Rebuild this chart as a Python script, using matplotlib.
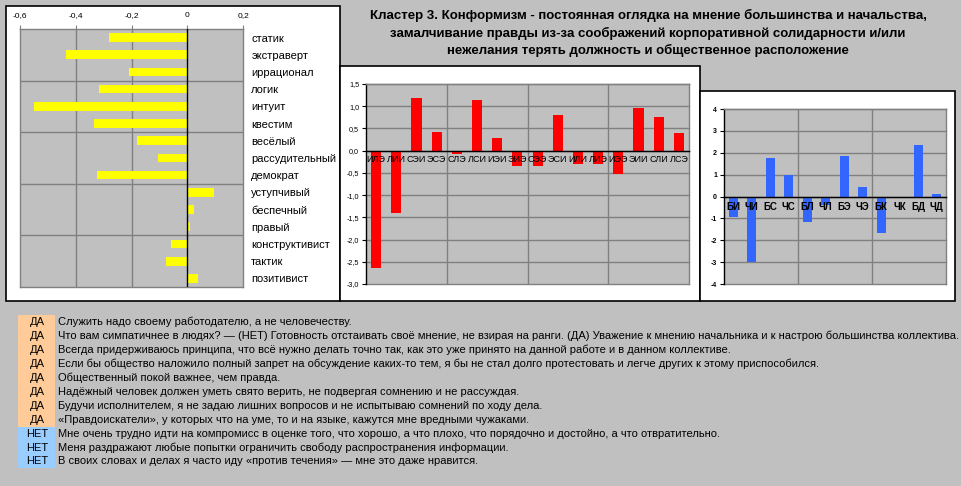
import numpy as np
import matplotlib
matplotlib.use("Agg")
import matplotlib.pyplot as plt
from matplotlib.patches import Rectangle

plt.rcParams["font.family"] = ["Liberation Sans", "DejaVu Sans"]

# --- data ---
traits = ["статик", "экстраверт", "иррационал", "логик", "интуит", "квестим",
          "весёлый", "рассудительный", "демократ", "уступчивый", "беспечный",
          "правый", "конструктивист", "тактик", "позитивист"]
trait_vals = [-0.28, -0.435, -0.21, -0.315, -0.55, -0.335, -0.18, -0.105,
              -0.325, 0.095, 0.025, 0.01, -0.06, -0.075, 0.04]
trait_ticks = [-0.6, -0.4, -0.2, 0, 0.2]
trait_ticklabels = ["-0,6", "-0,4", "-0,2", "0", "0,2"]

types = ["ИЛЭ", "ЛИИ", "СЭИ", "ЭСЭ", "СЛЭ", "ЛСИ", "ИЭИ", "ЭИЭ",
         "СЭЭ", "ЭСИ", "ИЛИ", "ЛИЭ", "ИЭЭ", "ЭИИ", "СЛИ", "ЛСЭ"]
type_vals = [-2.64, -1.41, 1.18, 0.43, -0.08, 1.13, 0.28, -0.35,
             -0.35, 0.80, -0.31, -0.29, -0.53, 0.97, 0.75, 0.39]
type_ticks = [-3.0, -2.5, -2.0, -1.5, -1.0, -0.5, 0.0, 0.5, 1.0, 1.5]
type_ticklabels = ["-3,0", "-2,5", "-2,0", "-1,5", "-1,0", "-0,5", "0,0", "0,5", "1,0", "1,5"]

funcs = ["БИ", "ЧИ", "БС", "ЧС", "БЛ", "ЧЛ", "БЭ", "ЧЭ", "БК", "ЧК", "БД", "ЧД"]
func_vals = [-0.95, -3.0, 1.75, 0.99, -1.17, -0.38, 1.84, 0.43, -1.68, 0.0, 2.35, 0.1]
func_ticks = [-4, -3, -2, -1, 0, 1, 2, 3, 4]

title = ("Кластер 3. Конформизм - постоянная оглядка на мнение большинства и начальства,\n"
         "замалчивание правды из-за соображений корпоративной солидарности и/или\n"
         "нежелания терять должность и общественное расположение")

answers = ["ДА", "ДА", "ДА", "ДА", "ДА", "ДА", "ДА", "ДА", "НЕТ", "НЕТ", "НЕТ"]
statements = [
    "Служить надо своему работодателю, а не человечеству.",
    "Что вам симпатичнее в людях? — (НЕТ) Готовность отстаивать своё мнение, не взирая на ранги. "
    "(ДА) Уважение к мнению начальника и к настрою большинства коллектива.",
    "Всегда придерживаюсь принципа, что всё нужно делать точно так, как это уже принято на данной работе и в данном коллективе.",
    "Если бы общество наложило полный запрет на обсуждение каких-то тем, я бы не стал долго протестовать и легче других к этому приспособился.",
    "Общественный покой важнее, чем правда.",
    "Надёжный человек должен уметь свято верить, не подвергая сомнению и не рассуждая.",
    "Будучи исполнителем, я не задаю лишних вопросов и не испытываю сомнений по ходу дела.",
    "«Правдоискатели», у которых что на уме, то и на языке, кажутся мне вредными чужаками.",
    "Мне очень трудно идти на компромисс в оценке того, что хорошо, а что плохо, что порядочно и достойно, а что отвратительно.",
    "Меня раздражают любые попытки ограничить свободу распространения информации.",
    "В своих словах и делах я часто иду «против течения» — мне это даже нравится.",
]

W, H = 962, 486
GRID = "#808080"
BG = "#C0C0C0"


def rect(x0, y0, x1, y1):
    return [x0 / W, 1 - y1 / H, (x1 - x0) / W, (y1 - y0) / H]


def panel(x0, y0, x1, y1):
    fig.patches.append(Rectangle((x0 / W, 1 - y1 / H), (x1 - x0) / W, (y1 - y0) / H,
                                 transform=fig.transFigure, facecolor="white",
                                 edgecolor="black", linewidth=1.2, zorder=-1))


def style_column_axes(ax):
    # x axis crosses at zero like in Excel; do it first, it resets the ticks
    ax.spines["bottom"].set_position(("data", 0))
    ax.spines["bottom"].set_color("black")
    ax.spines["left"].set_color("black")
    ax.spines["top"].set_color(GRID)
    ax.spines["right"].set_color(GRID)
    for s in ax.spines.values():
        s.set_linewidth(1)
        s.set_zorder(3)
    ax.set_facecolor(BG)
    ax.set_axisbelow(False)  # category labels drawn over the bars


fig = plt.figure(figsize=(W / 100, H / 100), dpi=100, facecolor=BG)

panel(6, 6, 340, 301)
panel(340, 66, 700, 301)
panel(700, 91, 955, 301)

# --- left: traits ---
ax1 = fig.add_axes(rect(20, 29, 243, 287))
ax1.set_facecolor(BG)
y = np.arange(len(traits))
ax1.barh(y, trait_vals, height=0.5, color="#FFFF00", zorder=2)
ax1.set_xlim(-0.6, 0.2)
ax1.set_ylim(len(traits) - 0.5, -0.5)
for gx in [-0.4, -0.2]:
    ax1.axvline(gx, color=GRID, lw=1, zorder=1)
for gy in [2.5, 5.5, 8.5, 11.5]:
    ax1.axhline(gy, color=GRID, lw=1, zorder=1)
ax1.axvline(0, color="black", lw=1, zorder=3)
ax1.xaxis.tick_top()
ax1.set_xticks(trait_ticks)
ax1.set_xticklabels(trait_ticklabels, fontsize=6)
ax1.tick_params(axis="x", length=3, color=GRID, pad=4)
ax1.yaxis.tick_right()
ax1.set_yticks(y)
ax1.set_yticklabels(traits, fontsize=8)
ax1.tick_params(axis="y", length=0, pad=6)
for s in ax1.spines.values():
    s.set_color(GRID)
    s.set_linewidth(1)

# --- middle: types ---
ax2 = fig.add_axes(rect(366, 84, 689, 284))
style_column_axes(ax2)
x2 = np.arange(len(types))
ax2.bar(x2, type_vals, width=0.5, color="#FF0000", zorder=2)
ax2.set_xlim(-0.5, len(types) - 0.5)
ax2.set_ylim(-3.0, 1.5)
ax2.set_yticks(type_ticks)
ax2.set_yticklabels(type_ticklabels, fontsize=5.2)
ax2.tick_params(axis="y", length=3, pad=2)
for gy in type_ticks:
    ax2.axhline(gy, color=GRID, lw=1, zorder=1, clip_on=False)
for gx in [3.5, 7.5, 11.5]:
    ax2.axvline(gx, color=GRID, lw=1, zorder=1)
ax2.set_xticks(x2)
ax2.set_xticklabels(types, fontsize=6.5)
ax2.tick_params(axis="x", length=0, pad=3)

# --- right: functions ---
ax3 = fig.add_axes(rect(724, 109, 946, 284))
style_column_axes(ax3)
x3 = np.arange(len(funcs))
ax3.bar(x3, func_vals, width=0.5, color="#3366FF", zorder=2)
ax3.set_xlim(-0.5, len(funcs) - 0.5)
ax3.set_ylim(-4, 4)
ax3.set_yticks(func_ticks)
ax3.set_yticklabels([str(t) for t in func_ticks], fontsize=5, fontweight="bold")
ax3.tick_params(axis="y", length=3, pad=2)
for gy in func_ticks:
    ax3.axhline(gy, color=GRID, lw=1, zorder=1, clip_on=False)
for gx in [3.5, 7.5]:
    ax3.axvline(gx, color=GRID, lw=1, zorder=1)
ax3.set_xticks(x3)
ax3.set_xticklabels(funcs, fontsize=7, fontweight="bold")
ax3.tick_params(axis="x", length=0, pad=4)

# --- title ---
fig.text(648 / W, 1 - 33 / H, title, ha="center", va="center", fontsize=9.5,
         fontweight="bold", linespacing=1.4)

# --- questionnaire ---
row_h = 13.95
top = 315
for i, (ans, st) in enumerate(zip(answers, statements)):
    y0 = top + i * row_h
    col = "#FFCC99" if ans == "ДА" else "#99CCFF"
    fig.patches.append(Rectangle((18 / W, 1 - (y0 + row_h) / H), 37 / W, row_h / H,
                                 transform=fig.transFigure, facecolor=col,
                                 edgecolor="none", zorder=-1))
    yc = 1 - (y0 + row_h / 2) / H
    fig.text(37 / W, yc, ans, ha="center", va="center", fontsize=8)
    fig.text(58 / W, yc, st, ha="left", va="center", fontsize=8)

fig.savefig("out.png", dpi=100, facecolor=BG)
